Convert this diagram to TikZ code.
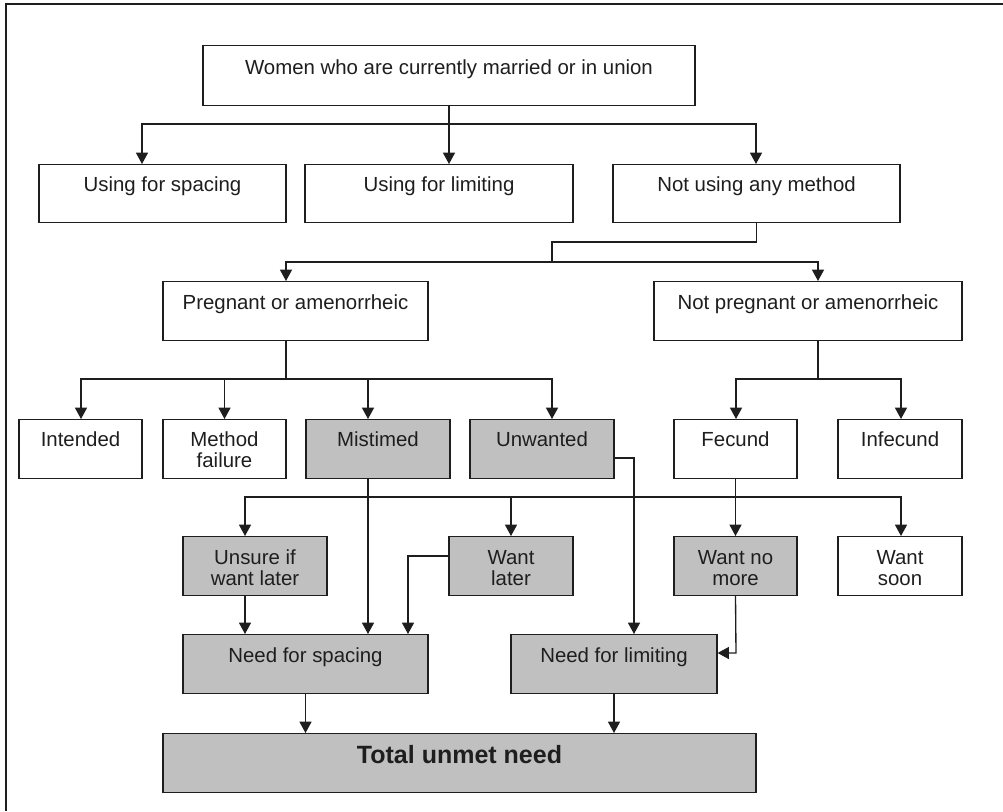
\documentclass[tikz,border=0pt]{standalone}
\usepackage{fontspec}
\setmainfont{Liberation Sans}
\usetikzlibrary{arrows.meta}
\definecolor{boxgray}{HTML}{C0C0C0}
\definecolor{ink}{HTML}{1E1E1E}
\newcommand{\pbox}[8]{%
  \pgfmathsetmacro{\bw}{(#4-#2)*0.75}%
  \pgfmathsetmacro{\bth}{#7*0.75}%
  \pgfmathsetmacro{\btd}{(#5-#3-#7)*0.75}%
  \node[#6, minimum width=\bw pt, text height=\bth pt, text depth=\btd pt, anchor=north] (#1) at ({(#2+#4)/2},#3) {#8};}
\begin{document}
\begin{tikzpicture}[x=0.75pt,y=-0.75pt,
  box/.style={draw=ink, line width=0.9pt, fill=white, inner sep=0pt, align=center,
    font=\fontsize{15.3}{16}\selectfont, text=ink},
  gbox/.style={box, fill=boxgray},
  conn/.style={draw=ink, line width=1pt},
  arr/.style={conn, -{Triangle[width=9pt,length=8.5pt]}},
  dbl/.style={conn, {Triangle[width=9pt,length=8.5pt]}-{Triangle[width=9pt,length=8.5pt]}},
  frame/.style={draw=ink, line width=1.5pt}]
\useasboundingbox (0,0) rectangle (1003,811);
\draw[frame] (6,811) -- (6,4) -- (1003,4);

% boxes (the baseline offset given is that of the last line)
\pbox{top}{203}{45}{695}{105}{box}{29}{Women who are currently married or in union}
\pbox{sp}{39}{164}{286}{222}{box}{27}{Using for spacing}
\pbox{lim}{305}{164}{573}{222}{box}{27}{Using for limiting}
\pbox{nu}{613}{164}{900}{222}{box}{27}{Not using any method}
\pbox{preg}{163}{281}{428}{340}{box}{28}{Pregnant or amenorrheic}
\pbox{np}{654}{281}{962}{340}{box}{28}{Not pregnant or amenorrheic}
\pbox{int}{19}{419}{142}{478}{box}{27}{Intended}
\pbox{mf}{163}{419}{286}{478}{box}{48.3}{Method\\failure}
\pbox{mis}{306}{419}{450}{478}{gbox}{27}{Mistimed}
\pbox{unw}{470}{419}{614}{478}{gbox}{27}{Unwanted}
\pbox{fec}{674}{419}{797}{478}{box}{27}{Fecund}
\pbox{inf}{838}{419}{962}{478}{box}{27}{Infecund}
\pbox{uns}{183}{536}{327}{595}{gbox}{48.8}{Unsure if\\want later}
\pbox{wl}{449}{536}{573}{595}{gbox}{48.8}{Want\\later}
\pbox{wnm}{674}{536}{797}{595}{gbox}{48.8}{Want no\\more}
\pbox{ws}{838}{536}{962}{595}{box}{48.8}{Want\\soon}
\pbox{nfs}{183}{634}{428}{693}{gbox}{28}{Need for spacing}
\pbox{nfl}{511}{634}{717}{693}{gbox}{28}{Need for limiting}
\pbox{tot}{163}{733}{756}{792}{gbox,font=\fontsize{18.75}{20}\selectfont\bfseries}{29.5}{Total unmet need}

% junction coordinates
\coordinate (b1l) at (142,124);
\coordinate (b1r) at (756,124);
\coordinate (b2) at (552,242);
\coordinate (b3l) at (286,262);
\coordinate (b3r) at (818,262);
\coordinate (c1) at (81,379);
\coordinate (c3) at (368,379);
\coordinate (c4) at (552,379);
\coordinate (e1) at (736,379);
\coordinate (e2) at (901,379);
\coordinate (d1) at (245,497);
\coordinate (d4) at (901,497);
\coordinate (u) at (634,458);
\coordinate (w) at (408,556);
\coordinate (v) at (736,653);

% level 1
\draw[arr] (top.south) -- (top.south |- lim.north);
\draw[dbl] (b1l |- sp.north) -- (b1l) -- (b1r) -- (b1r |- nu.north);

% level 2
\draw[conn] (nu.south) |- (b2) -- (b2 |- b3l);
\draw[dbl] (b3l |- preg.north) -- (b3l) -- (b3r) -- (b3r |- np.north);

% level 3
\draw[conn] (b3l |- preg.south) -- (b3l |- c1);
\draw[dbl] (c1 |- int.north) -- (c1) -- (c4) -- (c4 |- unw.north);
\draw[arr] (mf.north |- c1) -- (mf.north);
\draw[arr] (c3) -- (c3 |- mis.north);
\draw[conn] (b3r |- np.south) -- (b3r |- e1);
\draw[dbl] (e1 |- fec.north) -- (e1) -- (e2) -- (e2 |- inf.north);

% level 4
\draw[arr] (fec.south) -- (fec.south |- wnm.north);
\draw[dbl] (d1 |- uns.north) -- (d1) -- (d4) -- (d4 |- ws.north);
\draw[arr] (wl.north |- d1) -- (wl.north);

% to needs
\draw[arr] (c3 |- mis.south) -- (c3 |- nfs.north);
\draw[arr] (u -| unw.east) -- (u) -- (u |- nfl.north);
\draw[arr] (d1 |- uns.south) -- (d1 |- nfs.north);
\draw[arr] (w -| wl.west) -- (w) -- (w |- nfs.north);
\draw[arr] (wnm.south) -- (v) -- (v -| nfl.east);

% to total
\draw[arr] (nfs.south) -- (nfs.south |- tot.north);
\draw[arr] (nfl.south) -- (nfl.south |- tot.north);
\end{tikzpicture}
\end{document}
